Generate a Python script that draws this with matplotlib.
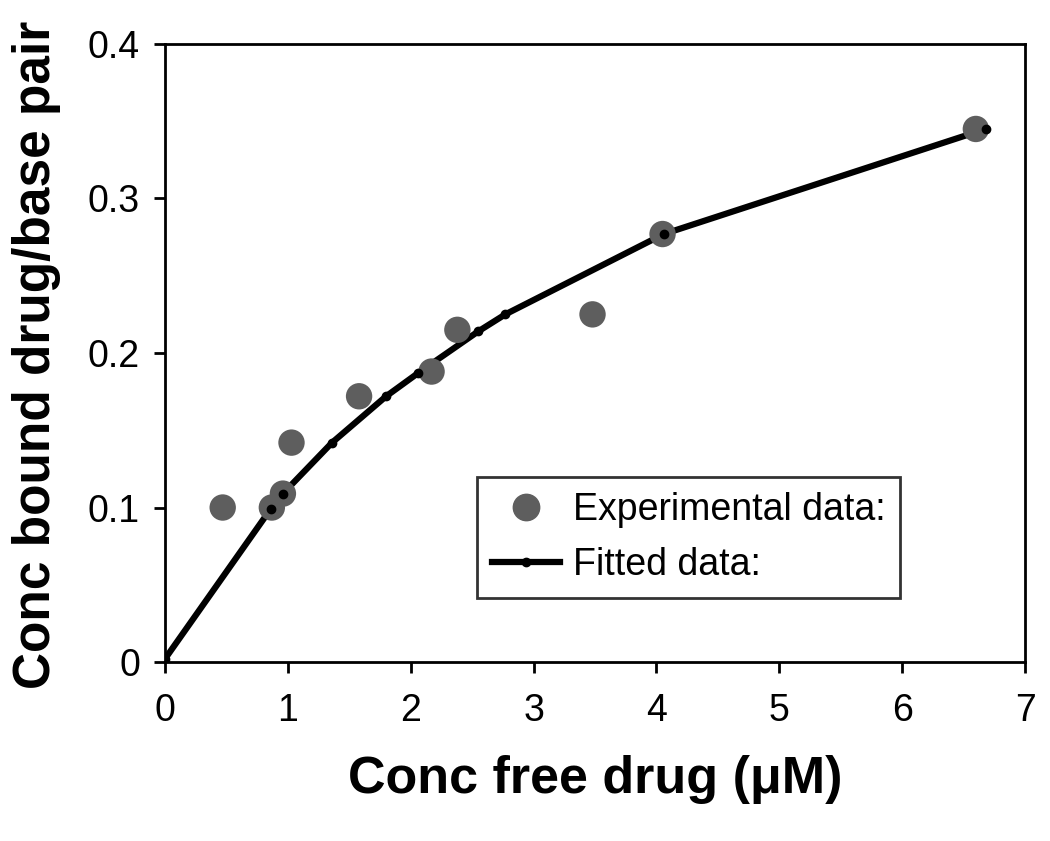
import matplotlib
matplotlib.use("Agg")
import matplotlib.pyplot as plt
from matplotlib.lines import Line2D

plt.rcParams['font.family'] = ['Liberation Sans', 'DejaVu Sans']

# Experimental binding data (gray circles)
exp_free = [0.47, 0.87, 0.96, 1.03, 1.58, 2.17, 2.38, 3.48, 4.05, 6.60]
exp_bound = [0.100, 0.100, 0.109, 0.142, 0.172, 0.188, 0.215, 0.225, 0.277, 0.345]

# Fitted data (black line with small markers)
fit_free = [0.0, 0.86, 0.96, 1.36, 1.80, 2.06, 2.55, 2.77, 4.06, 6.68]
fit_bound = [0.002, 0.099, 0.109, 0.142, 0.172, 0.187, 0.214, 0.225, 0.277, 0.345]

x_ticks = [0, 1, 2, 3, 4, 5, 6, 7]
y_ticks = [0, 0.1, 0.2, 0.3, 0.4]
y_tick_labels = ['0', '0.1', '0.2', '0.3', '0.4']

fig = plt.figure(figsize=(10.5, 8.41), dpi=100)
ax = fig.add_axes([0.1571, 0.2128, 0.8191, 0.7349])

gray = '#5e5e5e'

ax.plot(fit_free, fit_bound, color='black', lw=4.5, zorder=2,
        solid_capstyle='round', solid_joinstyle='round')
ax.scatter(exp_free, exp_bound, s=19 ** 2, color=gray, edgecolors='none',
           zorder=3)
ax.plot(fit_free, fit_bound, linestyle='none', marker='o', markersize=6,
        color='black', zorder=4)

ax.set_xlim(0, 7)
ax.set_ylim(0, 0.4)
ax.set_xticks(x_ticks)
ax.set_yticks(y_ticks)
ax.set_yticklabels(y_tick_labels)
ax.tick_params(axis='both', direction='out', length=8, width=2,
               labelsize=27, pad=10)
ax.tick_params(axis='x', pad=14)

for side in ['left', 'bottom', 'right', 'top']:
    ax.spines[side].set_linewidth(2)
    ax.spines[side].set_color('black')

ax.set_xlabel('Conc free drug (\u03bcM)', fontsize=37.5, fontweight='bold')
ax.xaxis.set_label_coords(0.5, -0.15)
ax.set_ylabel('Conc bound drug/base pair', fontsize=37, fontweight='bold')
ax.yaxis.set_label_coords(-0.121, 0.497)

handles = [
    Line2D([], [], linestyle='none', marker='o', markersize=19, color=gray),
    Line2D([], [], color='black', lw=4.5, marker='o', markersize=6),
]
leg = ax.legend(handles, ['Experimental data:', 'Fitted data:'],
                loc='lower left', bbox_to_anchor=(0.363, 0.104),
                fontsize=27, frameon=True, fancybox=False,
                handlelength=1.8, handletextpad=0.35, borderpad=0.4,
                labelspacing=0.5, borderaxespad=0)
leg.get_frame().set_edgecolor('black')
leg.get_frame().set_linewidth(2)

fig.savefig('out.png', dpi=100)
